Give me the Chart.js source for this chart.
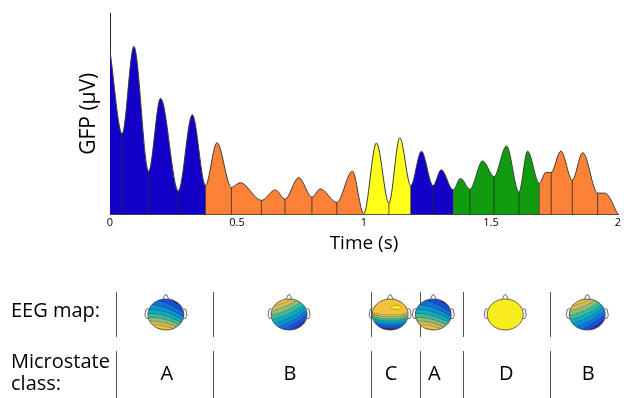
<!DOCTYPE html>
<html>
<head>
<meta charset="utf-8">
<script src="https://cdn.jsdelivr.net/npm/chart.js@4.4.1/dist/chart.umd.min.js"></script>
<style>
  html, body { margin: 0; padding: 0; background: #fff; }
</style>
</head>
<body>
<canvas id="gfpChart" width="624" height="398"></canvas>
<script>
// GFP trace (peaks and troughs), time in s
const times = [0, 0.048, 0.094, 0.152, 0.199, 0.269, 0.324, 0.376, 0.421, 0.478, 0.513,
  0.596, 0.651, 0.689, 0.743, 0.795, 0.828, 0.893, 0.954, 0.999, 1.049, 1.098, 1.141,
  1.184, 1.226, 1.272, 1.304, 1.351, 1.380, 1.417, 1.467, 1.512, 1.561, 1.610, 1.644,
  1.690, 1.716, 1.737, 1.775, 1.820, 1.861, 1.920, 1.949, 2.0];
const gfp = [8.10, 4.00, 8.34, 2.14, 5.77, 1.17, 4.95, 1.45, 3.56, 1.34, 1.58,
  0.70, 1.22, 0.76, 1.83, 0.86, 1.27, 0.60, 2.15, 0.03, 3.55, 0.57, 3.81,
  1.43, 3.14, 1.43, 2.22, 1.22, 1.79, 1.25, 2.66, 1.88, 3.40, 1.11, 3.14,
  1.55, 2.09, 2.09, 3.15, 1.71, 3.07, 1.06, 1.06, 0.0];

// GFP minima where the trace is cut into segments
const dividers = [0.048, 0.152, 0.269, 0.376, 0.478, 0.596, 0.689, 0.795, 0.893,
  1.098, 1.184, 1.272, 1.351, 1.417, 1.512, 1.610, 1.690, 1.737, 1.820, 1.920];

// microstate segments of the trace
const segEdges = [0, 0.376, 0.999, 1.184, 1.351, 1.690, 2.0];
const segClasses = ['A', 'B', 'C', 'A', 'D', 'B'];

// lower table (EEG map / microstate class)
const tableEdges = [0.024, 0.404, 1.028, 1.219, 1.390, 1.733];
const tableCenters = [0.220, 0.705, 1.103, 1.273, 1.556, 1.879];
const tableClasses = ['A', 'B', 'C', 'A', 'D', 'B'];

const xTicks = [0, 0.5, 1, 1.5, 2];

const stateColors = { A: '#1300c8', B: '#fd8235', C: '#ffff19', D: '#0f9c0f' };
const parula = ['#352a87', '#1a4fd8', '#1372d9', '#1192d2', '#0dadc0', '#3fba9b',
  '#8dbe76', '#cdbb5c', '#f5c23f', '#f7ec1c'].map(h => {
  const n = parseInt(h.slice(1), 16);
  return [n >> 16, (n >> 8) & 255, n & 255];
});

// rough scalp field shapes for each map (u right, v down, unit circle)
const topoFields = {
  A: (u, v) => 0.46 + 0.42 * (-0.33 * u + 0.94 * v) - 0.08 * u * u + 0.06 * v * v,
  B: (u, v) => 0.48 - 0.42 * (0.5 * u + 0.85 * v) - 0.07 * u * u,
  C: (u, v) => {
    const d = ((u - 0.35) / 0.28) ** 2 + ((v + 0.45) / 0.13) ** 2;
    if (d < 1) return 0.95;
    return 0.86 - 0.8 * Math.max(0, v + 0.05 + 0.12 * u * u);
  },
  D: () => 0.97
};

function segClassAt(t) {
  for (let i = 0; i < segClasses.length; i++) {
    if (t >= segEdges[i] && t < segEdges[i + 1]) return segClasses[i];
  }
  return segClasses[segClasses.length - 1];
}

const HEAD_RX = 18, HEAD_RY = 15.5;
const headCache = {};
function headImage(cls) {
  if (headCache[cls]) return headCache[cls];
  const S = 3;
  const w = Math.round(HEAD_RX * 2 * S), h = Math.round(HEAD_RY * 2 * S);
  const cv = document.createElement('canvas');
  cv.width = w; cv.height = h;
  const g = cv.getContext('2d');
  const img = g.createImageData(w, h);
  const lv = new Int8Array(w * h).fill(-1);
  const f = topoFields[cls];
  for (let j = 0; j < h; j++) {
    for (let i = 0; i < w; i++) {
      const u = (i + 0.5 - w / 2) / (w / 2), v = (j + 0.5 - h / 2) / (h / 2);
      if (u * u + v * v > 1) continue;
      lv[j * w + i] = Math.max(0, Math.min(9, Math.floor(f(u, v) * 10)));
    }
  }
  for (let j = 0; j < h; j++) {
    for (let i = 0; i < w; i++) {
      const k = j * w + i, l = lv[k];
      if (l < 0) continue;
      let [r, gg, b] = parula[l];
      const edge = [[1, 0], [0, 1]].some(([di, dj]) => {
        const ii = i + di, jj = j + dj;
        if (ii >= w || jj >= h) return false;
        const m = lv[jj * w + ii];
        return m >= 0 && m !== l;
      });
      if (edge) { r *= 0.45; gg *= 0.45; b *= 0.45; }
      img.data[k * 4] = r; img.data[k * 4 + 1] = gg; img.data[k * 4 + 2] = b; img.data[k * 4 + 3] = 255;
    }
  }
  g.putImageData(img, 0, 0);
  headCache[cls] = cv;
  return cv;
}

function drawHead(ctx, cx, cy, cls) {
  const rx = HEAD_RX, ry = HEAD_RY;
  ctx.save();
  ctx.strokeStyle = '#444';
  ctx.lineWidth = 0.8;
  // nose
  ctx.beginPath();
  ctx.moveTo(cx - 3.5, cy - ry + 1.5);
  ctx.lineTo(cx - 1, cy - ry - 4);
  ctx.quadraticCurveTo(cx, cy - ry - 5, cx + 1, cy - ry - 4);
  ctx.lineTo(cx + 3.5, cy - ry + 1.5);
  ctx.stroke();
  // ears
  [-1, 1].forEach(s => {
    ctx.beginPath();
    ctx.moveTo(cx + s * (rx - 0.5), cy - 6);
    ctx.lineTo(cx + s * (rx + 2), cy - 5);
    ctx.lineTo(cx + s * (rx + 3), cy + 1);
    ctx.lineTo(cx + s * (rx + 1.5), cy + 4);
    ctx.lineTo(cx + s * (rx - 0.5), cy + 4);
    ctx.stroke();
  });
  ctx.imageSmoothingEnabled = true;
  ctx.imageSmoothingQuality = 'high';
  ctx.drawImage(headImage(cls), cx - rx, cy - ry, rx * 2, ry * 2);
  ctx.beginPath();
  ctx.ellipse(cx, cy, rx, ry, 0, 0, Math.PI * 2);
  ctx.stroke();
  ctx.restore();
}

const dividerPlugin = {
  id: 'dividers',
  afterDatasetsDraw(chart) {
    const { ctx, scales: { y } } = chart;
    const meta = chart.getDatasetMeta(0);
    const base = y.getPixelForValue(0);
    ctx.save();
    ctx.strokeStyle = '#2a2a2a';
    ctx.lineWidth = 0.8;
    meta.data.forEach((pt, i) => {
      if (!dividers.includes(times[i])) return;
      ctx.beginPath();
      ctx.moveTo(pt.x, pt.y);
      ctx.lineTo(pt.x, base);
      ctx.stroke();
    });
    ctx.restore();
  }
};

const tablePlugin = {
  id: 'stateTable',
  afterDraw(chart) {
    const { ctx, scales: { x } } = chart;
    ctx.save();
    ctx.fillStyle = '#000';
    ctx.font = '20px "Open Sans"';
    ctx.textAlign = 'left';
    ctx.textBaseline = 'alphabetic';
    ctx.fillText('EEG map:', 11, 317);
    ctx.fillText('Microstate', 11, 368);
    ctx.fillText('class:', 11, 390);

    ctx.strokeStyle = '#555';
    ctx.lineWidth = 1;
    tableEdges.forEach(t => {
      const px = Math.round(x.getPixelForValue(t)) + 0.5;
      ctx.beginPath();
      ctx.moveTo(px, 292); ctx.lineTo(px, 337);
      ctx.moveTo(px, 351); ctx.lineTo(px, 398);
      ctx.stroke();
    });

    ctx.textAlign = 'center';
    tableClasses.forEach((cls, i) => {
      const px = x.getPixelForValue(tableCenters[i]);
      drawHead(ctx, px, 314.5, cls);
      ctx.fillStyle = '#000';
      ctx.fillText(cls, px + 1, 380);
    });
    ctx.restore();
  }
};

Chart.defaults.font.family = '"Open Sans", sans-serif';
Chart.defaults.color = '#000';

new Chart(document.getElementById('gfpChart'), {
  type: 'line',
  data: {
    datasets: [{
      data: times.map((t, i) => ({ x: t, y: gfp[i] })),
      borderColor: '#3a3a3a',
      borderWidth: 1,
      pointRadius: 0,
      cubicInterpolationMode: 'monotone',
      fill: 'origin',
      backgroundColor: stateColors.A,
      segment: {
        backgroundColor: c => stateColors[segClassAt(c.p0.parsed.x)]
      }
    }]
  },
  options: {
    responsive: false,
    animation: false,
    layout: { padding: { left: 76, right: 6, top: 13, bottom: 143.5 } },
    plugins: { legend: { display: false }, tooltip: { enabled: false } },
    scales: {
      x: {
        type: 'linear',
        min: 0,
        max: 2,
        afterBuildTicks: axis => { axis.ticks = xTicks.map(v => ({ value: v })); },
        grid: { display: false, drawTicks: false },
        border: { display: true, color: '#444', width: 1 },
        ticks: { font: { size: 11 }, padding: 2, maxRotation: 0, callback: v => String(v) },
        title: { display: true, text: 'Time (s)', font: { size: 19 }, padding: { top: 0, bottom: 0 } }
      },
      y: {
        min: 0,
        max: 10,
        grid: { display: false, drawTicks: false },
        border: { display: true, color: '#222', width: 1 },
        ticks: { display: false },
        title: { display: true, text: 'GFP (μV)', font: { size: 21 }, padding: { top: 0, bottom: 8.8 } }
      }
    }
  },
  plugins: [dividerPlugin, tablePlugin]
});
</script>
</body>
</html>
